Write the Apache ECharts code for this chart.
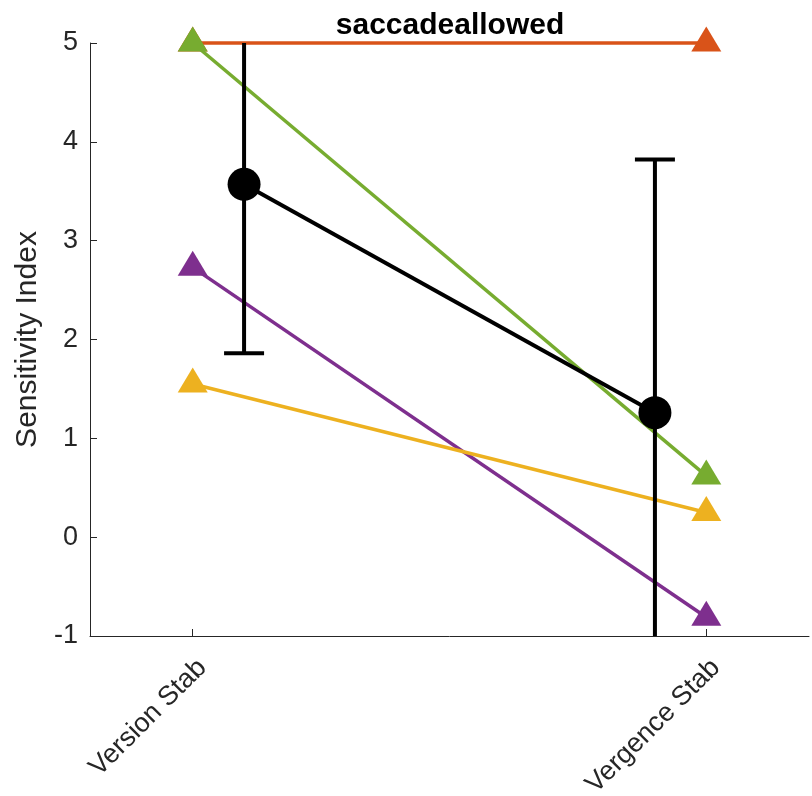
<!DOCTYPE html>
<html>
<head>
<meta charset="utf-8">
<script src="https://cdn.jsdelivr.net/npm/echarts@6/dist/echarts.min.js"></script>
<style>
  html, body { margin: 0; padding: 0; background: #fff; }
  #chart { width: 812px; height: 796px; }
</style>
</head>
<body>
<div id="chart"></div>
<script>
// Conditions on the x axis (positions 1 and 2)
const categories = ['Version Stab', 'Vergence Stab'];
const categoryPos = [1, 2];

// Per-subject sensitivity index for each condition
const subjectNames = ['S1', 'S2', 'S3', 'S4'];
const subjectColors = ['#D95319', '#77AC30', '#7E2F8E', '#EDB120'];
const subjectValues = [
  [5.00, 5.00],
  [5.00, 0.62],
  [2.73, -0.81],
  [1.55, 0.25]
];

// Group mean and error, plotted slightly inward from each condition
const meanPos = [1.1, 1.9];
const meanValues = [3.57, 1.26];
const meanErrors = [1.71, 2.56];

const yTicks = [-1, 0, 1, 2, 3, 4, 5];

const FONT = '"Liberation Sans", Arial, Helvetica, sans-serif';
const AXIS_COLOR = '#262626';

const chart = echarts.init(document.getElementById('chart'), null, { renderer: 'canvas' });

const subjectSeries = subjectValues.map((vals, i) => ({
  name: subjectNames[i],
  type: 'line',
  data: categoryPos.map((x, j) => [x, vals[j]]),
  symbol: 'triangle',
  symbolSize: [30, 25],
  symbolOffset: [0, -4],
  lineStyle: { color: subjectColors[i], width: 3.5 },
  itemStyle: { color: subjectColors[i] },
  z: 2 + i * 0.01,
  silent: true,
  clip: false
}));

const errorSeries = {
  name: 'error',
  type: 'custom',
  clip: true,
  z: 5,
  data: meanPos.map((x, i) => [x, meanValues[i] - meanErrors[i], meanValues[i] + meanErrors[i]]),
  renderItem: function (params, api) {
    const x = api.value(0);
    const lo = api.coord([x, api.value(1)]);
    const hi = api.coord([x, api.value(2)]);
    const half = 20;
    const style = { stroke: '#000', lineWidth: 4, fill: null };
    return {
      type: 'group',
      children: [
        { type: 'line', shape: { x1: lo[0], y1: lo[1], x2: hi[0], y2: hi[1] }, style },
        { type: 'line', shape: { x1: lo[0] - half, y1: lo[1], x2: lo[0] + half, y2: lo[1] }, style },
        { type: 'line', shape: { x1: hi[0] - half, y1: hi[1], x2: hi[0] + half, y2: hi[1] }, style }
      ]
    };
  }
};

const meanSeries = {
  name: 'mean',
  type: 'line',
  data: meanPos.map((x, i) => [x, meanValues[i]]),
  symbol: 'circle',
  symbolSize: 33,
  lineStyle: { color: '#000', width: 4 },
  itemStyle: { color: '#000' },
  z: 6,
  silent: true
};

chart.setOption({
  animation: false,
  backgroundColor: '#fff',
  title: {
    text: 'saccadeallowed',
    left: 445,
    textAlign: 'center',
    top: 6,
    textStyle: { fontFamily: FONT, fontSize: 30, fontWeight: 'bold', color: '#000' }
  },
  grid: { left: 90, right: 3, top: 43, bottom: 160, containLabel: false, outerBoundsMode: 'none' },
  xAxis: {
    type: 'value',
    min: 0.8,
    max: 2.2,
    interval: 0.2,
    splitLine: { show: false },
    axisLine: { show: true, onZero: false, lineStyle: { color: AXIS_COLOR, width: 1 } },
    axisTick: { show: true, inside: true, length: 7, customValues: categoryPos, lineStyle: { color: AXIS_COLOR } },
    axisLabel: {
      customValues: categoryPos,
      rotate: 45,
      margin: 18,
      verticalAlign: 'top',
      fontFamily: FONT,
      fontSize: 27,
      color: AXIS_COLOR,
      formatter: function (v) {
        const k = categoryPos.indexOf(Math.round(v));
        return k >= 0 ? categories[k] : '';
      }
    }
  },
  yAxis: {
    type: 'value',
    min: yTicks[0],
    max: yTicks[yTicks.length - 1],
    interval: 1,
    name: 'Sensitivity Index',
    nameLocation: 'middle',
    nameGap: 34,
    nameRotate: 90,
    nameTextStyle: { fontFamily: FONT, fontSize: 30, color: AXIS_COLOR },
    splitLine: { show: false },
    axisLine: { show: true, onZero: false, lineStyle: { color: AXIS_COLOR, width: 1 } },
    axisTick: { show: true, inside: true, length: 7, lineStyle: { color: AXIS_COLOR } },
    axisLabel: { margin: 12, fontFamily: FONT, fontSize: 27, color: AXIS_COLOR }
  },
  series: [...subjectSeries, errorSeries, meanSeries]
});
</script>
</body>
</html>
